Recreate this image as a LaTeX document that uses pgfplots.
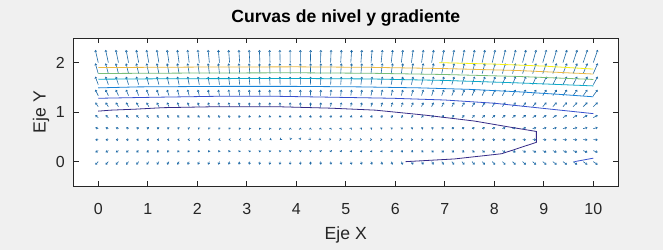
\documentclass[border=0pt]{standalone}
\usepackage{fontspec}
\setmainfont{Liberation Sans}
\usepackage{pgfplots}
\usepackage{pgfplotstable}
\pgfplotsset{compat=1.18}
\usetikzlibrary{arrows.meta}
\definecolor{figbg}{RGB}{240,240,240}
\definecolor{axc}{RGB}{38,38,38}
\definecolor{qc}{RGB}{28,104,165}
\definecolor{cA}{RGB}{53,42,135}
\definecolor{cB}{RGB}{55,80,205}
\definecolor{cC}{RGB}{25,130,215}
\definecolor{cD}{RGB}{15,170,200}
\definecolor{cE}{RGB}{120,190,120}
\definecolor{cF}{RGB}{235,185,70}
\definecolor{cG}{RGB}{245,240,25}
% gradient x-component per column (data units, as drawn)
\pgfplotstableread{
x u
0.0000 -0.0600
0.2041 -0.0569
0.4082 -0.0539
0.6122 -0.0508
0.8163 -0.0478
1.0204 -0.0447
1.2245 -0.0416
1.4286 -0.0386
1.6327 -0.0355
1.8367 -0.0324
2.0408 -0.0294
2.2449 -0.0263
2.4490 -0.0233
2.6531 -0.0202
2.8571 -0.0171
3.0612 -0.0141
3.2653 -0.0110
3.4694 -0.0080
3.6735 -0.0049
3.8776 -0.0018
4.0816 0.0012
4.2857 0.0043
4.4898 0.0073
4.6939 0.0104
4.8980 0.0135
5.1020 0.0165
5.3061 0.0196
5.5102 0.0227
5.7143 0.0257
5.9184 0.0288
6.1224 0.0318
6.3265 0.0349
6.5306 0.0380
6.7347 0.0410
6.9388 0.0441
7.1429 0.0471
7.3469 0.0502
7.5510 0.0533
7.7551 0.0563
7.9592 0.0594
8.1633 0.0624
8.3673 0.0655
8.5714 0.0686
8.7755 0.0716
8.9796 0.0747
9.1837 0.0778
9.3878 0.0808
9.5918 0.0839
9.7959 0.0869
10.0000 0.0900
}\xtab
\newcommand\qrow[2]{\addplot[qc, line width=0.45pt, quiver={u=\thisrow{u}, v=#2,
  every arrow/.append style={-{Straight Barb[length=1.1pt,width=1.6pt]}}}]
  table[x=x, y expr=#1] {\xtab};}
\begin{document}
\begin{tikzpicture}
\fill[figbg] (-55.125pt,-47.7pt) rectangle ++(497.25pt,187.5pt);
\begin{axis}[name=ax,
  scale only axis, width=408.4pt, height=111.4pt,
  xmin=-0.5, xmax=10.5, ymin=-0.5, ymax=2.5,
  axis background/.style={fill=white},
  axis line style={axc, line width=0.5pt},
  tick style={axc, line width=0.5pt},
  tick align=inside, major tick length=4pt,
  xtick={0,1,...,10}, ytick={0,1,2},
  /pgf/number format/assume math mode=true,
  ticklabel style={font=\fontsize{12}{14}\selectfont, text=axc},
  xticklabel style={anchor=base, yshift=-20.9pt},
  yticklabel style={anchor=east, inner sep=0pt, xshift=-6.4pt},
  title={Curvas de nivel y gradiente},
  title style={at={(0.5,1)}, anchor=base, yshift=5.25pt, font=\fontsize{13.2}{15}\selectfont\bfseries, text=black},
  xlabel={Eje X},
  xlabel style={at={(0.5,0)}, anchor=base, yshift=-39.45pt, font=\fontsize{13.2}{15}\selectfont, text=axc},
  clip=false,
]
\qrow{0.0000}{-0.062}
\qrow{0.2222}{-0.034}
\qrow{0.4444}{-0.004}
\qrow{0.6667}{0.022}
\qrow{0.8889}{0.050}
\qrow{1.1111}{0.085}
\qrow{1.3333}{0.120}
\qrow{1.5556}{0.162}
\qrow{1.7778}{0.208}
\qrow{2.0000}{0.258}
% contour lines
\addplot[cA, line width=0.6pt] coordinates {(0,1.02) (0.25,1.04) (0.75,1.06) (1.3,1.09) (2.4,1.11) (3.6,1.11) (4.7,1.08) (5.6,1.04) (6.6,0.94) (7.6,0.82) (8.3,0.70) (8.85,0.61) (8.85,0.39) (8.15,0.16) (7.2,0.055) (6.21,0)};
\addplot[cB, line width=0.6pt] coordinates {(0,1.28) (1.1,1.30) (2.4,1.32) (3.6,1.32) (4.8,1.30) (5.95,1.28) (7.0,1.245) (8.0,1.18) (9.0,1.075) (10,0.97)};
\addplot[cB, line width=0.6pt] coordinates {(9.62,0) (10,0.07)};
\addplot[cC, line width=0.6pt] coordinates {(0,1.49) (0.8,1.51) (2.5,1.52) (4,1.52) (5.3,1.51) (6.5,1.49) (7.5,1.46) (8.5,1.41) (9.3,1.36) (10,1.31)};
\addplot[cD, line width=0.6pt] coordinates {(0,1.665) (1.5,1.675) (4,1.68) (5.5,1.67) (7,1.64) (8.5,1.59) (10,1.53)};
\addplot[cE, line width=0.6pt] coordinates {(0,1.78) (2,1.79) (4,1.795) (5.5,1.785) (7,1.76) (8.5,1.72) (10,1.66)};
\addplot[cF, line width=0.6pt] coordinates {(0,1.90) (2,1.91) (4,1.915) (5.5,1.905) (7,1.88) (8.5,1.84) (10,1.77)};
\addplot[cG, line width=0.6pt] coordinates {(6.89,2.0) (8,1.97) (9,1.93) (10,1.87)};
\end{axis}
\node[rotate=90, anchor=base, font=\fontsize{13.2}{15}\selectfont, text=axc] at ([xshift=-21pt]ax.west) {Eje Y};
\pgfresetboundingbox
\path[use as bounding box] (-55.125pt,-47.7pt) rectangle ++(497.25pt,187.5pt);
\end{tikzpicture}
\end{document}
